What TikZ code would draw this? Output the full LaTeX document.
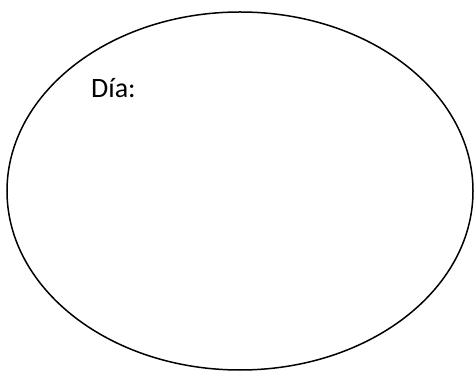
\documentclass[tikz,border=0pt]{standalone}
\usepackage{fontspec}
\setmainfont{Carlito}
\usetikzlibrary{shapes.geometric, positioning}

\begin{document}
\begin{tikzpicture}[x=1pt, y=-1pt,
    dayoval/.style={draw=black, line width=1.5pt, ellipse, inner sep=0pt,
                 minimum width=466pt, minimum height=358pt},
    daylabel/.style={font=\fontsize{28}{33}\selectfont, inner sep=0pt, anchor=base west}
]
    \useasboundingbox (0,0) rectangle (474,371);
    \node[dayoval] (oval) at (240,191) {};

    % Label
    \node[daylabel] (dia) at (91,98) {Día:};
\end{tikzpicture}
\end{document}
